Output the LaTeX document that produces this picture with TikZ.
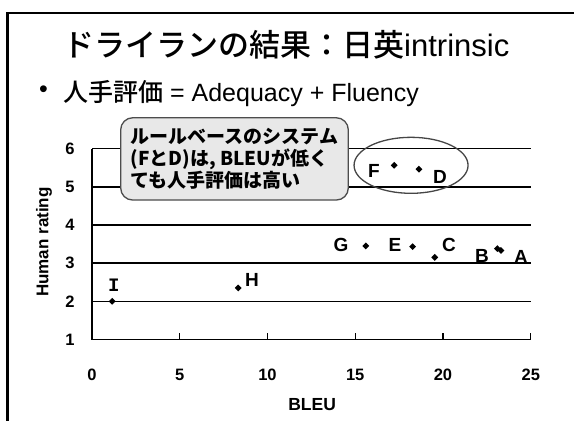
\documentclass[tikz,border=0pt]{standalone}
\usepackage{fontspec}
\setmainfont{Liberation Sans}
\setmonofont{Liberation Mono}
\newfontfamily\jp{Noto Sans CJK JP}
\newfontfamily\jpmed{Noto Sans CJK JP Medium}
\usetikzlibrary{shapes.geometric}

\tikzset{
  gridln/.style={line width=1.6pt},
  datapt/.style={diamond, fill=black, inner sep=0pt, minimum size=7pt},
  ptlab/.style={font=\fontsize{19}{19}\selectfont\bfseries, inner sep=0pt},
  ticklab/.style={font=\fontsize{16.5}{16.5}\selectfont\bfseries, inner sep=0pt},
}

\begin{document}
\begin{tikzpicture}[x=1pt, y=-1pt]
\useasboundingbox (0,0) rectangle (574,421);
\fill[white] (0,0) rectangle (574,421);

\draw[line width=2.5pt] (7.5,425) -- (7.5,13) -- (580,13);

\node[anchor=base west, inner sep=0pt] (title) at (63,56) {\fontsize{31}{31}\selectfont\jpmed ドライランの結果：日英\rmfamily intrinsic};

\node[inner sep=0pt] (bullet) at (43.5,92) {\fontsize{25}{25}\selectfont •};
\node[anchor=base west, inner sep=0pt] (item) at (63,101.5) {\fontsize{25}{25}\selectfont{\jpmed 人手評価} = Adequacy + Fluency};

\begin{scope}[shift={(92,377.7)}, x=17.55pt, y=38.2pt]

\draw[gridln] (0,2) -- (25,2);
\draw[gridln] (0,3) -- (25,3);
\draw[gridln] (0,4) -- (25,4);
\draw[gridln] (0,5) -- (25,5);
\draw[gridln] (0,6) -- (25,6);

\draw[gridln] (0,6) -- (0,1) -- (25,1);
\draw[line width=1.4pt] (5,1) -- ++(0pt,7pt);
\draw[line width=1.4pt] (10,1) -- ++(0pt,7pt);
\draw[line width=1.4pt] (15,1) -- ++(0pt,7pt);
\draw[line width=1.4pt] (20,1) -- ++(0pt,7pt);
\draw[line width=1.4pt] (25,1) -- ++(0pt,7pt);

\node[ticklab] (y1) at (-1.25,1) {1};
\node[ticklab] (y2) at (-1.25,2) {2};
\node[ticklab] (y3) at (-1.25,3) {3};
\node[ticklab] (y4) at (-1.25,4) {4};
\node[ticklab] (y5) at (-1.25,5) {5};
\node[ticklab] (y6) at (-1.25,6) {6};

\node[ticklab] (x0) at (0,0.08) {0};
\node[ticklab] (x5) at (5,0.08) {5};
\node[ticklab] (x10) at (10,0.08) {10};
\node[ticklab] (x15) at (15,0.08) {15};
\node[ticklab] (x20) at (20,0.08) {20};
\node[ticklab] (x25) at (25,0.08) {25};

\node[font=\fontsize{17.5}{17.5}\selectfont\bfseries, inner sep=0pt] (xname) at (12.54,-0.71) {BLEU};
\node[font=\fontsize{17}{17}\selectfont\bfseries, inner sep=0pt, rotate=90] (yname) at (-2.73,3.55) {Human rating};

\node[datapt] (pI) at (1.15,2) {};
\node[datapt] (pH) at (8.33,2.35) {};
\node[datapt] (pG) at (15.6,3.45) {};
\node[datapt] (pE) at (18.27,3.43) {};
\node[datapt] (pC) at (19.53,3.15) {};
\node[datapt] (pB) at (23.1,3.38) {};
\node[datapt] (pA) at (23.3,3.33) {};
\node[datapt] (pF) at (17.22,5.56) {};
\node[datapt] (pD) at (18.63,5.46) {};

\node[ptlab] (lI) at (1.25,2.43) {\ttfamily I};
\node[ptlab] (lH) at (9.12,2.57) {H};
\node[ptlab] (lG) at (14.19,3.47) {G};
\node[ptlab] (lE) at (17.26,3.47) {E};
\node[ptlab] (lC) at (20.34,3.47) {C};
\node[ptlab] (lB) at (22.22,3.19) {B};
\node[ptlab] (lA) at (24.44,3.16) {A};
\node[ptlab] (lF) at (16.07,5.41) {F};
\node[ptlab] (lD) at (19.83,5.25) {D};

\coordinate (ellc) at (18.18,5.56);
\draw[gray!55!black, line width=1.3pt] (ellc) ellipse (57pt and 28pt);
\end{scope}

\node[draw=gray!60!black, line width=1.3pt, fill=gray!18, rounded corners=12pt, minimum width=227.6pt, minimum height=82.3pt, align=left, font=\fontsize{19}{21.7}\selectfont\jp\bfseries] (note) at (234.5,158.9) {ルールベースのシステム\\(FとD)は, BLEUが低く\\ても人手評価は高い};

\end{tikzpicture}
\end{document}
